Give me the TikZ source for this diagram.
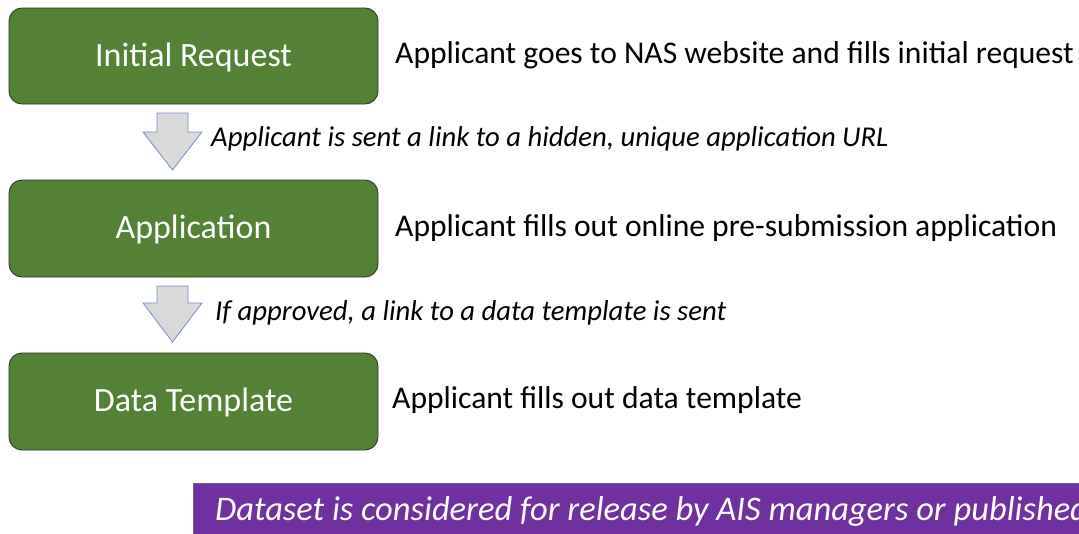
\documentclass[tikz,border=0pt]{standalone}
\usepackage{fontspec}
\setmainfont{Carlito}
\begin{document}
\begin{tikzpicture}[x=1pt,y=-1pt,
  stage/.style={draw=black!80,line width=0.9pt,fill=stagegreen,rounded corners=13pt},
  stagetext/.style={text=white,font=\fontsize{34}{40}\selectfont},
  desc/.style={anchor=west,font=\fontsize{31.6}{36}\selectfont,inner sep=0pt},
  note/.style={anchor=west,font=\itshape\fontsize{28.7}{33}\selectfont,inner sep=0pt},
  blockarrow/.style={draw=arrowblue,fill=arrowgray,line width=0.8pt,line join=miter}]
\definecolor{stagegreen}{HTML}{548235}
\definecolor{arrowgray}{HTML}{D9D9D9}
\definecolor{arrowblue}{HTML}{6F8FC9}
\definecolor{banner}{HTML}{7030A0}
\useasboundingbox (0,0) rectangle (1079,533);
\clip (0,0) rectangle (1079,533);
% stages
\draw[stage] (9,8) rectangle (378,104);
\node[stagetext] (req) at (193.5,57) {Initial Request};
\draw[stage] (9,180) rectangle (378,277);
\node[stagetext] (app) at (193.5,229) {Application};
\draw[stage] (9,353) rectangle (378,450);
\node[stagetext] (tpl) at (193.5,402) {Data Template};
% descriptions
\node[desc] (d1) at (395,55) {Applicant goes to NAS website and fills initial request};
\node[desc] (d2) at (395,228) {Applicant fills out online pre-submission application};
\node[desc] (d3) at (392,400) {Applicant fills out data template};
% arrows
\draw[blockarrow] (157,113) -- (188,113) -- (188,132) -- (202,132) -- (172.5,170) -- (143,132) -- (157,132) -- cycle;
\draw[blockarrow] (157,286) -- (188,286) -- (188,303) -- (202,303) -- (172.5,342) -- (143,303) -- (157,303) -- cycle;
\node[note] (n1) at (211,139) {Applicant is sent a link to a hidden, unique application URL};
\node[note] (n2) at (215,313) {If approved, a link to a data template is sent};
% banner
\fill[banner] (193,483) rectangle (1100,540);
\draw[black!60,line width=0.8pt] (193,540) -- (193,483) -- (1100,483);
\node[anchor=west,inner sep=0pt,text=white,font=\itshape\fontsize{34.5}{40}\selectfont] (ban) at (215,511) {Dataset is considered for release by AIS managers or published};
\end{tikzpicture}
\end{document}
